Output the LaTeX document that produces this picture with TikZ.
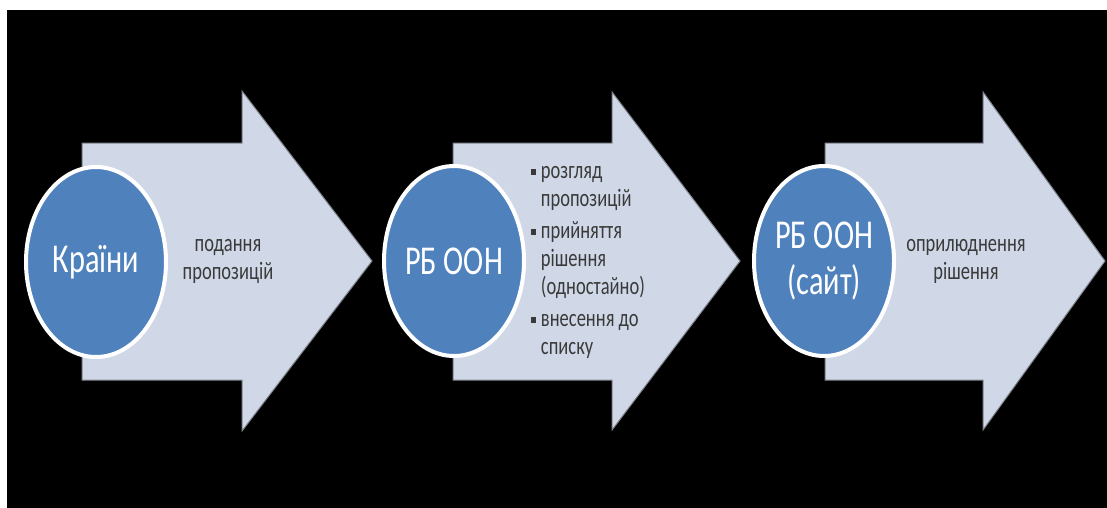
\documentclass[tikz,border=0pt]{standalone}
\usepackage{fontspec}
\setmainfont{Carlito}
\usetikzlibrary{shapes.geometric}
\definecolor{arrowfill}{HTML}{D0D8E8}
\definecolor{circfill}{HTML}{4F81BD}
\definecolor{txtgray}{HTML}{3A3A3A}
\begin{document}
\begin{tikzpicture}[x=1pt,y=-1pt,
  arrowshape/.style={fill=arrowfill,draw=arrowfill!60!black,line width=1pt,line join=miter},
  circ/.style={ellipse,minimum width=142pt,minimum height=192pt,inner sep=0pt},
  ring/.style={draw=white,line width=4pt},
  bigtxt/.style={text=white,xscale=0.74,transform shape,align=center,font=\fontsize{41}{46}\selectfont},
  smalltxt/.style={text=txtgray,xscale=0.74,transform shape,font=\fontsize{25}{28}\selectfont}
]
\useasboundingbox (0,0) rectangle (1107,508);
\fill[white] (0,0) rectangle (1107,508);
\fill[black] (7,10) rectangle (1107,508);
% arrows
\draw[arrowshape] (82,143) -- (242,143) -- (242,91) -- (372,261) -- (242,431) -- (242,380) -- (82,380) -- cycle;
\draw[arrowshape] (453,143) -- (612,143) -- (612,92) -- (740,261) -- (612,430) -- (612,380) -- (453,380) -- cycle;
\draw[arrowshape] (825,143) -- (983,143) -- (983,92) -- (1105,261) -- (983,430) -- (983,380) -- (825,380) -- cycle;
% circles
\node[circ] (c1) at (96,262) {};
\node[circ] (c2) at (454,261) {};
\node[circ] (c3) at (824,261) {};
\foreach \c in {c1,c2,c3}{
  \fill[circfill] (\c.center) ellipse [x radius=70pt, y radius=95pt];
  \path[ring] (\c.center) ellipse [x radius=70pt, y radius=95pt];
}
\node[bigtxt] (t1) at (c1) {Країни};
\node[bigtxt] (t2) at (c2) {РБ ООН};
\node[bigtxt] (t3) at (c3) {РБ ООН\\(сайт)};
% texts
\node[smalltxt,align=center] (s1) at (228,261) {подання\\пропозицій};
\node[smalltxt,align=left,anchor=west] (s2) at (528,262) {%
\makebox[14pt][l]{\raisebox{3pt}{\rule{7pt}{6pt}}}розгляд\\
\hspace*{14pt}пропозицій\\[4pt]
\makebox[14pt][l]{\raisebox{3pt}{\rule{7pt}{6pt}}}прийняття\\
\hspace*{14pt}рішення\\
\hspace*{14pt}(одностайно)\\[4pt]
\makebox[14pt][l]{\raisebox{3pt}{\rule{7pt}{6pt}}}внесення до\\
\hspace*{14pt}списку};
\node[smalltxt,align=center] (s3) at (966,261) {оприлюднення\\рішення};
\end{tikzpicture}
\end{document}
